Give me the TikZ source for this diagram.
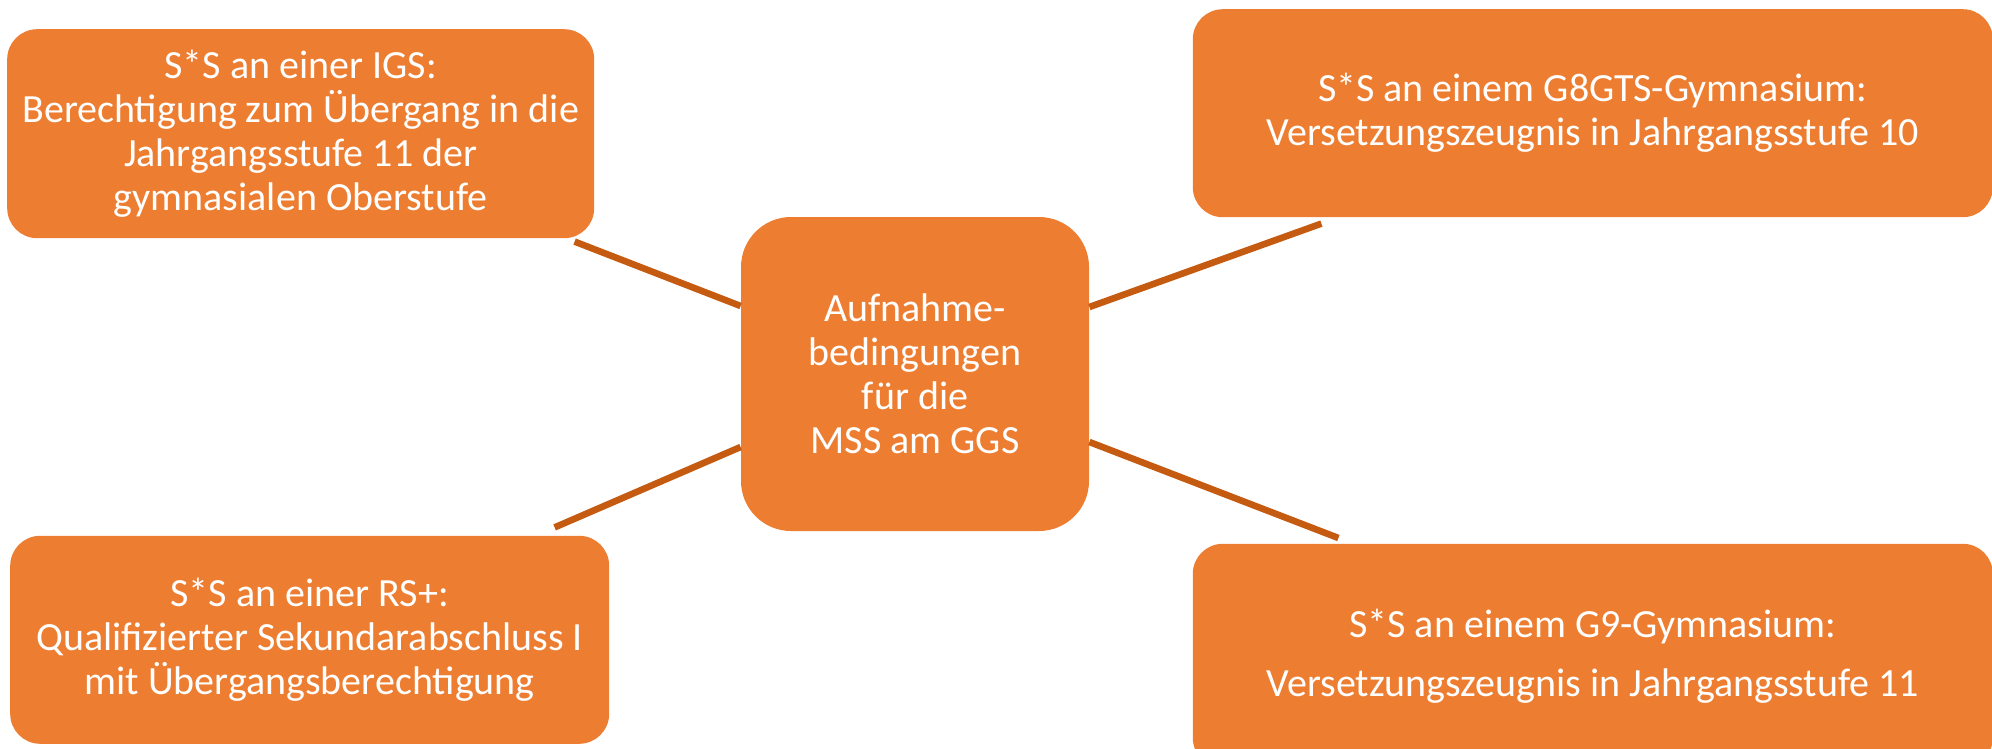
\documentclass[tikz,border=0pt]{standalone}
\usepackage{fontspec}
\setmainfont{Carlito}
\usetikzlibrary{positioning}
\definecolor{boxorange}{HTML}{ED7D31}
\definecolor{lineorange}{HTML}{C55A11}

\begin{document}
\begin{tikzpicture}[node distance=50pt]
	\tikzstyle{every node}=[font=\fontsize{20}{22}\selectfont, text=white, align=center]
	\tikzstyle{leaf}=[rectangle, rounded corners=15pt, fill=boxorange, minimum height=104pt, inner sep=0pt]
	\tikzstyle{spoke}=[draw=lineorange, line width=3.3pt]

	\useasboundingbox (0,0) rectangle (996pt,-374.5pt);
	\clip (0,0) rectangle (996pt,-374.5pt);

	\node[leaf, rounded corners=25pt, minimum width=174pt, minimum height=157pt] (aufnahme) at (457.5pt,-187pt) {Aufnahme-\\bedingungen\\für die\\MSS am GGS};
	\node[leaf, minimum width=293.5pt, minimum height=104.5pt, above left=-11pt and 73pt of aufnahme] (igs) {S*S an einer IGS:\\Berechtigung zum Übergang in die\\Jahrgangsstufe 11 der\\gymnasialen Oberstufe};
	\node[leaf, minimum width=299.5pt, below left=2pt and 65.5pt of aufnahme] (rsplus) {S*S an einer RS+:\\Qualifizierter Sekundarabschluss I\\mit Übergangsberechtigung};
	\node[leaf, minimum width=400pt, above right=-0.5pt and 51.5pt of aufnahme] (gacht) {S*S an einem G8GTS-Gymnasium:\\Versetzungszeugnis in Jahrgangsstufe 10};
	\node[leaf, minimum width=400pt, minimum height=112pt, below right=6pt and 51.5pt of aufnahme] (gneun) {S*S an einem G9-Gymnasium:\\[7.5pt]Versetzungszeugnis in Jahrgangsstufe 11};

	% free ends of the spokes, just off the outer boxes
	\coordinate (igsfoot) at ([xshift=-10pt,yshift=-1.5pt]igs.south east);
	\coordinate (rsfoot) at ([xshift=-27.5pt,yshift=4pt]rsplus.north east);
	\coordinate (gachtfoot) at ([xshift=64.5pt,yshift=-3pt]gacht.south west);
	\coordinate (gneunfoot) at ([xshift=73pt,yshift=2.7pt]gneun.north west);

	\draw[spoke] ([yshift=34pt]aufnahme.west) -- (igsfoot);
	\draw[spoke] ([yshift=-36.5pt]aufnahme.west) -- (rsfoot);
	\draw[spoke] ([yshift=33.5pt]aufnahme.east) -- (gachtfoot);
	\draw[spoke] ([yshift=-34pt]aufnahme.east) -- (gneunfoot);
\end{tikzpicture}
\end{document}
